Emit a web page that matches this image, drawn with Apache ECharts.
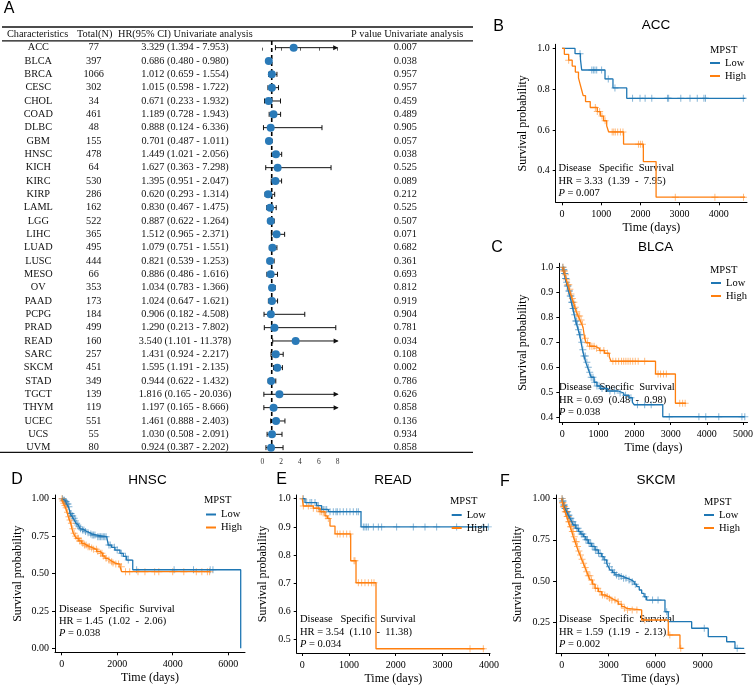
<!DOCTYPE html>
<html>
<head>
<meta charset="utf-8">
<script src="https://cdn.jsdelivr.net/npm/echarts@6/dist/echarts.min.js"></script>
<style>
html, body { margin: 0; padding: 0; background: #fff; }
#main { width: 756px; height: 688px; }
</style>
</head>
<body>
<div id="main"></div>
<script>
// ---- panel A: univariate table / forest ----
var cancers = ['ACC', 'BLCA', 'BRCA', 'CESC', 'CHOL', 'COAD', 'DLBC', 'GBM', 'HNSC', 'KICH', 'KIRC', 'KIRP', 'LAML', 'LGG', 'LIHC', 'LUAD', 'LUSC', 'MESO', 'OV', 'PAAD', 'PCPG', 'PRAD', 'READ', 'SARC', 'SKCM', 'STAD', 'TGCT', 'THYM', 'UCEC', 'UCS', 'UVM'];
var totals = [77, 397, 1066, 302, 34, 461, 48, 155, 478, 64, 530, 286, 162, 522, 365, 495, 444, 66, 353, 173, 184, 499, 160, 257, 451, 349, 139, 119, 551, 55, 80];
var hr = [3.329, 0.686, 1.012, 1.015, 0.671, 1.189, 0.888, 0.701, 1.449, 1.627, 1.395, 0.620, 0.830, 0.887, 1.512, 1.079, 0.821, 0.886, 1.034, 1.024, 0.906, 1.290, 3.540, 1.431, 1.595, 0.944, 1.816, 1.197, 1.461, 1.030, 0.924];
var hrLow = [1.394, 0.480, 0.659, 0.598, 0.233, 0.728, 0.124, 0.487, 1.021, 0.363, 0.951, 0.293, 0.467, 0.622, 0.965, 0.751, 0.539, 0.486, 0.783, 0.647, 0.182, 0.213, 1.101, 0.924, 1.191, 0.622, 0.165, 0.165, 0.888, 0.508, 0.387];
var hrHigh = [7.953, 0.980, 1.554, 1.722, 1.932, 1.943, 6.336, 1.011, 2.056, 7.298, 2.047, 1.314, 1.475, 1.264, 2.371, 1.551, 1.253, 1.616, 1.366, 1.621, 4.508, 7.802, 11.378, 2.217, 2.135, 1.432, 20.036, 8.666, 2.403, 2.091, 2.202];
var pValues = [0.007, 0.038, 0.957, 0.957, 0.459, 0.489, 0.905, 0.057, 0.038, 0.525, 0.089, 0.212, 0.525, 0.507, 0.071, 0.682, 0.361, 0.693, 0.812, 0.919, 0.904, 0.781, 0.034, 0.108, 0.002, 0.786, 0.626, 0.858, 0.136, 0.934, 0.858];
var forestTicks = [0, 2, 4, 6, 8];

// ---- KM curves: [time, survival] after each event, censor times ----
var accLow = [[0, 1], [332, 0.974], [470, 0.947], [502, 0.894], [1097, 0.85], [1300, 0.806], [1651, 0.755], [4680, 0.755]];
var accLowCensor = [460, 760, 800, 840, 885, 1010, 1180, 1350, 1800, 1990, 2120, 2290, 2690, 2720, 3030, 3265, 3450, 3620, 3660, 4625];
var accHigh = [[0, 1], [60, 0.971], [170, 0.942], [260, 0.913], [340, 0.884], [420, 0.855], [460, 0.826], [500, 0.797], [540, 0.768], [600, 0.739], [720, 0.71], [900, 0.69], [980, 0.668], [1060, 0.645], [1140, 0.62], [1190, 0.59], [1570, 0.53], [2075, 0.445], [2400, 0.27], [4670, 0.27]];
var accHighCensor = [170, 850, 900, 960, 1020, 1100, 1280, 1320, 1360, 1420, 1490, 1555, 1950, 2000, 2050, 2890, 3900, 4630];

var blcaLow = [[0, 1], [20, 0.99], [50, 0.975], [80, 0.955], [110, 0.94], [140, 0.925], [170, 0.905], [210, 0.885], [250, 0.86], [290, 0.835], [330, 0.81], [370, 0.785], [400, 0.77], [440, 0.75], [480, 0.73], [520, 0.7], [560, 0.67], [600, 0.645], [650, 0.62], [700, 0.6], [750, 0.58], [800, 0.56], [880, 0.54], [960, 0.525], [1050, 0.515], [1250, 0.505], [1550, 0.497], [1700, 0.488], [1850, 0.478], [1940, 0.46], [1990, 0.45], [2780, 0.402], [5050, 0.402]];
var blcaLowCensor = [15, 30, 45, 60, 75, 90, 105, 120, 140, 160, 180, 200, 220, 240, 260, 280, 300, 320, 345, 370, 395, 420, 450, 480, 510, 540, 570, 600, 640, 680, 720, 760, 800, 850, 900, 960, 1020, 1100, 1200, 1320, 1450, 1600, 1750, 1900, 2080, 2280, 2460, 2960, 3780, 3970, 4330, 4970, 5050];
var blcaHigh = [[0, 1], [30, 0.985], [70, 0.97], [110, 0.95], [150, 0.93], [190, 0.912], [230, 0.893], [270, 0.875], [310, 0.86], [350, 0.84], [390, 0.822], [440, 0.805], [490, 0.789], [540, 0.772], [575, 0.76], [600, 0.735], [620, 0.716], [660, 0.698], [760, 0.684], [900, 0.676], [1030, 0.667], [1170, 0.656], [1300, 0.642], [1350, 0.624], [2580, 0.573], [3130, 0.456], [3420, 0.456]];
var blcaHighCensor = [20, 40, 60, 90, 120, 150, 180, 210, 240, 280, 320, 360, 400, 440, 480, 520, 560, 640, 700, 760, 820, 880, 950, 1050, 1150, 1250, 1400, 1480, 1560, 1640, 1700, 1760, 1820, 1880, 1950, 2020, 2100, 2280, 2650, 2720, 2800, 2880, 3250, 3330, 3400];

var hnscLow = [[0, 1], [60, 0.99], [120, 0.98], [180, 0.965], [240, 0.947], [280, 0.925], [300, 0.902], [360, 0.885], [420, 0.869], [470, 0.852], [515, 0.836], [560, 0.824], [600, 0.813], [660, 0.8], [720, 0.791], [820, 0.781], [900, 0.773], [1000, 0.765], [1080, 0.757], [1260, 0.746], [1620, 0.735], [1680, 0.69], [1800, 0.675], [1920, 0.657], [2100, 0.635], [2220, 0.615], [2340, 0.59], [2560, 0.525], [6450, 0]];
var hnscLowCensor = [30, 70, 100, 140, 170, 200, 230, 260, 310, 340, 380, 400, 450, 500, 540, 580, 620, 680, 750, 800, 860, 950, 1050, 1100, 1150, 1200, 1300, 1350, 1400, 1450, 1500, 1550, 1600, 1700, 1750, 1900, 2000, 2150, 2300, 2400, 2700, 4050, 4750, 5350, 5450];
var hnscHigh = [[0, 1], [20, 0.985], [60, 0.97], [100, 0.955], [140, 0.94], [190, 0.91], [240, 0.88], [280, 0.858], [324, 0.836], [370, 0.8], [420, 0.769], [480, 0.75], [540, 0.735], [620, 0.718], [720, 0.702], [800, 0.69], [900, 0.679], [1020, 0.67], [1141, 0.662], [1260, 0.648], [1380, 0.635], [1470, 0.617], [1560, 0.602], [1650, 0.59], [1741, 0.579], [1830, 0.57], [1920, 0.563], [2100, 0.545], [2160, 0.512], [5340, 0.512]];
var hnscHighCensor = [10, 40, 80, 120, 160, 210, 260, 300, 350, 400, 450, 500, 560, 600, 650, 700, 760, 820, 880, 950, 1000, 1080, 1150, 1250, 1300, 1400, 1450, 1500, 1600, 1700, 1800, 1850, 1950, 2050, 2150, 2300, 2450, 2750, 3000, 3350, 3500, 4000, 4400, 4850, 5050, 5250, 5330];

var readLow = [[0, 1], [58, 0.986], [308, 0.975], [415, 0.962], [557, 0.954], [1257, 0.9], [3983, 0.9]];
var readLowCensor = [22, 94, 165, 201, 272, 343, 415, 450, 486, 522, 593, 664, 721, 750, 807, 878, 950, 1021, 1092, 1164, 1200, 1307, 1342, 1378, 1414, 1521, 1628, 1699, 2020, 2377, 2627, 2877, 3305, 3876, 3983];
var readHigh = [[0, 1], [20, 0.974], [236, 0.966], [379, 0.954], [486, 0.939], [536, 0.93], [593, 0.903], [700, 0.875], [1036, 0.78], [1150, 0.702], [1578, 0.468], [3900, 0.468]];
var readHighCensor = [10, 22, 129, 236, 308, 343, 379, 415, 450, 507, 557, 750, 807, 878, 950, 1021, 1107, 1128, 1200, 1271, 1342, 1414, 1485, 1535, 3591, 3876];

var skcmLow = [[0, 1], [50, 0.985], [104, 0.962], [200, 0.94], [319, 0.921], [420, 0.9], [530, 0.881], [640, 0.86], [742, 0.84], [900, 0.82], [1061, 0.8], [1220, 0.785], [1380, 0.769], [1540, 0.75], [1699, 0.729], [1900, 0.71], [2125, 0.689], [2340, 0.668], [2553, 0.648], [2700, 0.628], [2872, 0.608], [2980, 0.587], [3082, 0.567], [3250, 0.552], [3401, 0.537], [3650, 0.527], [3932, 0.517], [4200, 0.506], [4467, 0.496], [4630, 0.481], [4786, 0.466], [4950, 0.446], [5105, 0.426], [5260, 0.405], [5424, 0.385], [6592, 0.314], [6803, 0.254], [8296, 0.214], [9355, 0.163], [10530, 0.132], [11060, 0.092], [11650, 0.092]];
var skcmLowCensor = [30, 60, 90, 130, 170, 210, 250, 290, 330, 380, 430, 480, 530, 590, 650, 720, 800, 880, 960, 1050, 1150, 1250, 1350, 1450, 1550, 1650, 1750, 1850, 1950, 2050, 2150, 2250, 2350, 2450, 2600, 2750, 2900, 3050, 3200, 3350, 3500, 3650, 3800, 3950, 4100, 4300, 4500, 4700, 5350, 5800, 6150, 6700, 9100, 11200];
var skcmHigh = [[0, 1], [50, 0.975], [104, 0.951], [210, 0.921], [319, 0.891], [420, 0.86], [530, 0.83], [640, 0.8], [742, 0.769], [850, 0.739], [957, 0.709], [1060, 0.683], [1168, 0.658], [1270, 0.633], [1380, 0.608], [1490, 0.582], [1595, 0.557], [1700, 0.532], [1806, 0.507], [1960, 0.481], [2125, 0.456], [2340, 0.436], [2553, 0.416], [2760, 0.406], [2974, 0.396], [3190, 0.385], [3401, 0.375], [3610, 0.36], [3829, 0.345], [3990, 0.335], [4148, 0.325], [5105, 0.264], [6803, 0.173], [7549, 0.092], [7760, 0.092]];
var skcmHighCensor = [20, 50, 80, 110, 150, 190, 230, 270, 310, 350, 400, 450, 500, 560, 620, 680, 740, 800, 870, 940, 1010, 1100, 1200, 1300, 1400, 1500, 1600, 1700, 1800, 1900, 2000, 2150, 2300, 2450, 2600, 2750, 2900, 3050, 3200, 3400, 3600, 3800, 4000, 4200, 4500, 4800, 5300, 6900, 7600];

// tick labels
var accTimeTicks = [0, 1000, 2000, 3000, 4000], accSurvTicks = [0.4, 0.6, 0.8, 1.0];
var blcaTimeTicks = [0, 1000, 2000, 3000, 4000, 5000], blcaSurvTicks = [0.4, 0.5, 0.6, 0.7, 0.8, 0.9, 1.0];
var hnscTimeTicks = [0, 2000, 4000, 6000], hnscSurvTicks = [0, 0.25, 0.5, 0.75, 1.0];
var readTimeTicks = [0, 1000, 2000, 3000, 4000], readSurvTicks = [0.5, 0.6, 0.7, 0.8, 0.9, 1.0];
var skcmTimeTicks = [0, 3000, 6000, 9000], skcmSurvTicks = [0.25, 0.5, 0.75, 1.0];

var hrTexts = ['HR = 3.33  (1.39  -  7.95)', 'HR = 0.69  (0.48  -  0.98)', 'HR = 1.45  (1.02  -  2.06)', 'HR = 3.54  (1.10  -  11.38)', 'HR = 1.59  (1.19  -  2.13)'];
var kmP = ['0.007', '0.038', '0.038', '0.034', '0.002'];
var kmTitles = ['ACC', 'BLCA', 'HNSC', 'READ', 'SKCM'];

(function() {
  var myChart = echarts.init(document.getElementById('main'));
  var SERIF = '"Liberation Serif", "DejaVu Serif", serif';
  var SANS = '"Liberation Sans", Arial, sans-serif';
  var BLUE = '#1f77b4', ORANGE = '#ff7f0e', DOT = '#2a7ab8';
  var CROSS = 'path://M0,4.3h10v1.4h-10zM4.3,0h1.4v10h-1.4z';

  // value of a step curve at time t
  function survAt(curve, t) {
    var s = 1;
    for (var i = 0; i < curve.length; i++) {
      if (curve[i][0] <= t) s = curve[i][1];
    }
    return s;
  }

  var panels = [
    { grid: { left: 555.7, top: 44.3, width: 191.3, height: 158 }, x: [-161, 4719], y: [0.245, 1.02], xt: accTimeTicks, yt: accSurvTicks, d: 1, yGap: 27,
      low: accLow, lowC: accLowCensor, high: accHigh, highC: accHighCensor,
      leg: [710, 56.5], mpst: [710, 50], title: [656, 25.3], letter: ['B', 498.5, 27], note: [558.5, 168.3] },
    { grid: { left: 559.3, top: 263.3, width: 190.7, height: 158.7 }, x: [-82, 5126], y: [0.381, 1.016], xt: blcaTimeTicks, yt: blcaSurvTicks, d: 1, yGap: 30,
      low: blcaLow, lowC: blcaLowCensor, high: blcaHigh, highC: blcaHighCensor,
      leg: [711, 276.5], mpst: [710, 270], title: [655.6, 247.7], letter: ['C', 497, 248], note: [559, 387.7] },
    { grid: { left: 55, top: 495, width: 190, height: 157.3 }, x: [-241, 6605], y: [-0.027, 1.025], xt: hnscTimeTicks, yt: hnscSurvTicks, d: 2, yGap: 31,
      low: hnscLow, lowC: hnscLowCensor, high: hnscHigh, highC: hnscHighCensor,
      leg: [206, 508], mpst: [204, 500.5], title: [147.5, 480], letter: ['D', 17, 480], note: [59, 609] },
    { grid: { left: 296.7, top: 495, width: 193.3, height: 158 }, x: [-120, 4019], y: [0.453, 1.013], xt: readTimeTicks, yt: readSurvTicks, d: 1, yGap: 27.4,
      low: readLow, lowC: readLowCensor, high: readHigh, highC: readHighCensor,
      leg: [451.7, 508.5], mpst: [450, 501.7], title: [393, 480], letter: ['E', 281.7, 480], note: [300, 619.3] },
    { grid: { left: 556, top: 495, width: 189, height: 158.3 }, x: [-364, 11700], y: [0.062, 1.022], xt: skcmTimeTicks, yt: skcmSurvTicks, d: 2, yGap: 31.7,
      low: skcmLow, lowC: skcmLowCensor, high: skcmHigh, highC: skcmHighCensor,
      leg: [704, 508.5], mpst: [704, 502.3], title: [656, 480], letter: ['F', 505, 481.5], note: [559, 619.3] }
  ];

  // forest rows sit on a value axis, one unit per row
  var grids = [{ left: 256, top: 41, width: 89, height: 413.3 }];
  var xAxes = [{
    gridIndex: 0, type: 'value', min: -0.67, max: 8.78,
    axisLine: { show: false },
    axisTick: { show: true, length: 3, customValues: forestTicks, lineStyle: { color: '#333', width: 0.8 } },
    axisLabel: { customValues: forestTicks, color: '#333', fontFamily: SERIF, fontSize: 7.5, margin: 4 },
    splitLine: { show: false }
  }];
  var yAxes = [{ gridIndex: 0, type: 'value', min: -0.5, max: cancers.length - 0.5, inverse: true, show: false }];
  var legends = [];
  var texts = [];
  var series = [];

  // table rows
  series.push({
    type: 'custom', xAxisIndex: 0, yAxisIndex: 0, silent: true,
    data: cancers.map(function(c, i) { return [0, i]; }),
    encode: { x: 0, y: 1 },
    renderItem: function(params, api) {
      var i = api.value(1);
      var y = api.coord([0, i])[1];
      var font = '10.3px ' + SERIF;
      var cells = [
        [38.3, cancers[i]],
        [93.7, String(totals[i])],
        [185, hr[i].toFixed(3) + ' (' + hrLow[i].toFixed(3) + ' - ' + hrHigh[i].toFixed(3) + ')'],
        [405.3, pValues[i].toFixed(3)]
      ];
      return {
        type: 'group',
        children: cells.map(function(c) {
          return { type: 'text', style: { text: c[1], x: c[0], y: y, font: font, fill: '#111', textAlign: 'center', textVerticalAlign: 'middle' } };
        })
      };
    }
  });

  // confidence intervals (+ dashed reference at HR = 1)
  series.push({
    type: 'custom', xAxisIndex: 0, yAxisIndex: 0, silent: true, z: 3,
    data: cancers.map(function(c, i) {
      return [hrLow[i], Math.min(hrHigh[i], 8), i, hrHigh[i] > 7.9 ? 1 : 0];
    }),
    encode: { x: [0, 1], y: 2 },
    renderItem: function(params, api) {
      var row = api.value(2);
      var p1 = api.coord([api.value(0), row]);
      var p2 = api.coord([api.value(1), row]);
      var st = { stroke: '#111', lineWidth: 1 };
      var kids = [
        { type: 'line', shape: { x1: p1[0], y1: p1[1], x2: p2[0], y2: p2[1] }, style: st },
        { type: 'line', shape: { x1: p1[0], y1: p1[1] - 2.5, x2: p1[0], y2: p1[1] + 2.5 }, style: st }
      ];
      if (api.value(3)) {
        kids.push({ type: 'polygon', shape: { points: [[p2[0] + 1, p2[1]], [p2[0] - 4, p2[1] - 2.5], [p2[0] - 4, p2[1] + 2.5]] }, style: { fill: '#111' } });
      } else {
        kids.push({ type: 'line', shape: { x1: p2[0], y1: p2[1] - 2.5, x2: p2[0], y2: p2[1] + 2.5 }, style: st });
      }
      if (params.dataIndex === 0) {
        var cs = params.coordSys;
        var xr = api.coord([1, 0])[0];
        kids.unshift({ type: 'line', shape: { x1: xr, y1: cs.y, x2: xr, y2: cs.y + cs.height - 2 }, style: { stroke: '#000', lineWidth: 1.6, lineDash: [4, 3] } });
      }
      return { type: 'group', children: kids };
    }
  });

  series.push({
    type: 'scatter', xAxisIndex: 0, yAxisIndex: 0, z: 5, silent: true,
    symbolSize: 8, itemStyle: { color: DOT, opacity: 1 },
    data: hr.map(function(v, i) { return [v, i]; })
  });

  panels.forEach(function(p, k) {
    var gi = k + 1;
    grids.push(p.grid);
    xAxes.push({
      gridIndex: gi, type: 'value', min: p.x[0], max: p.x[1],
      axisLine: { show: true, onZero: false, lineStyle: { color: '#000', width: 1 } },
      axisTick: { show: true, length: 3, customValues: p.xt, lineStyle: { color: '#000' } },
      axisLabel: { customValues: p.xt, color: '#000', fontFamily: SERIF, fontSize: 10, margin: 7,
        formatter: function(v) { return String(v); } },
      splitLine: { show: false },
      name: 'Time (days)', nameLocation: 'middle', nameGap: 20,
      nameTextStyle: { color: '#000', fontFamily: SERIF, fontSize: 12 }
    });
    yAxes.push({
      gridIndex: gi, type: 'value', min: p.y[0], max: p.y[1],
      axisLine: { show: true, onZero: false, lineStyle: { color: '#000', width: 1 } },
      axisTick: { show: true, length: 3, customValues: p.yt, lineStyle: { color: '#000' } },
      axisLabel: {
        customValues: p.yt, color: '#000', fontFamily: SERIF, fontSize: 10, margin: 6,
        formatter: function(v) { return Number(v).toFixed(p.d); }
      },
      splitLine: { show: false },
      name: 'Survival probability', nameLocation: 'middle', nameGap: p.yGap,
      nameTextStyle: { color: '#000', fontFamily: SERIF, fontSize: 12 }
    });

    [['Low', p.low, p.lowC, BLUE], ['High', p.high, p.highC, ORANGE]].forEach(function(g) {
      series.push({
        name: g[0], type: 'line', xAxisIndex: gi, yAxisIndex: gi, step: 'end',
        data: g[1], showSymbol: false, symbol: 'none', silent: true,
        lineStyle: { color: g[3], width: 1.3 }, itemStyle: { color: g[3] }
      });
      series.push({
        name: g[0] + ' censor', type: 'scatter', xAxisIndex: gi, yAxisIndex: gi, silent: true,
        symbol: CROSS, symbolSize: 7, itemStyle: { color: g[3], opacity: 0.55 },
        data: g[2].map(function(t) { return [t, survAt(g[1], t)]; })
      });
    });

    legends.push({
      left: p.leg[0], top: p.leg[1], orient: 'vertical', padding: 0, itemGap: 0,
      itemWidth: 10, itemHeight: 2, icon: 'rect', selectedMode: false,
      data: ['Low', 'High'],
      textStyle: { fontFamily: SERIF, fontSize: 10.5, color: '#000', lineHeight: 13 }
    });

    var f = '10.5px ' + SERIF;
    texts.push({ type: 'text', style: { text: 'MPST', x: p.mpst[0], y: p.mpst[1], font: f, fill: '#000', textAlign: 'left', textVerticalAlign: 'middle' } });
    texts.push({ type: 'text', style: { text: kmTitles[k], x: p.title[0], y: p.title[1], font: '13.5px ' + SANS, fill: '#000', textAlign: 'center', textVerticalAlign: 'middle' } });
    texts.push({ type: 'text', style: { text: p.letter[0], x: p.letter[1], y: p.letter[2], font: '16px ' + SANS, fill: '#000', textAlign: 'center', textVerticalAlign: 'middle' } });
    texts.push({ type: 'text', style: { text: 'Disease   Specific  Survival', x: p.note[0], y: p.note[1], font: f, fill: '#000', textAlign: 'left', textVerticalAlign: 'middle' } });
    texts.push({ type: 'text', style: { text: hrTexts[k], x: p.note[0], y: p.note[1] + 12.5, font: f, fill: '#000', textAlign: 'left', textVerticalAlign: 'middle' } });
    texts.push({ type: 'text', style: {
      text: '{i|P}{n| = ' + kmP[k] + '}', x: p.note[0], y: p.note[1] + 24.5, fill: '#000', textAlign: 'left', textVerticalAlign: 'middle',
      rich: { i: { fontFamily: SERIF, fontSize: 10.5, fontStyle: 'italic', fill: '#000' }, n: { fontFamily: SERIF, fontSize: 10.5, fill: '#000' } }
    } });
  });

  // table frame and header
  var hf = '10.3px ' + SERIF;
  texts.push({ type: 'text', style: { text: 'A', x: 9, y: 9, font: '16px ' + SANS, fill: '#000', textAlign: 'center', textVerticalAlign: 'middle' } });
  [[7, 'Characteristics'], [77, 'Total(N)'], [118, 'HR(95% CI) Univariate analysis'], [351, 'P value Univariate analysis']].forEach(function(h) {
    texts.push({ type: 'text', style: { text: h[1], x: h[0], y: 34.3, font: hf, fill: '#111', textAlign: 'left', textVerticalAlign: 'middle' } });
  });
  [[2, 27, 473], [2, 40.8, 473], [0, 452.3, 473]].forEach(function(l) {
    texts.push({ type: 'line', shape: { x1: l[0], y1: l[1], x2: l[2], y2: l[1] }, style: { stroke: '#111', lineWidth: 1.3 } });
  });

  var option = {
    animation: false,
    backgroundColor: '#fff',
    grid: grids,
    xAxis: xAxes,
    yAxis: yAxes,
    legend: legends,
    graphic: { elements: texts },
    series: series
  };
  myChart.setOption(option);
  window.addEventListener('resize', function() {
    myChart.resize();
  });
})();
</script>
</body>
</html>
